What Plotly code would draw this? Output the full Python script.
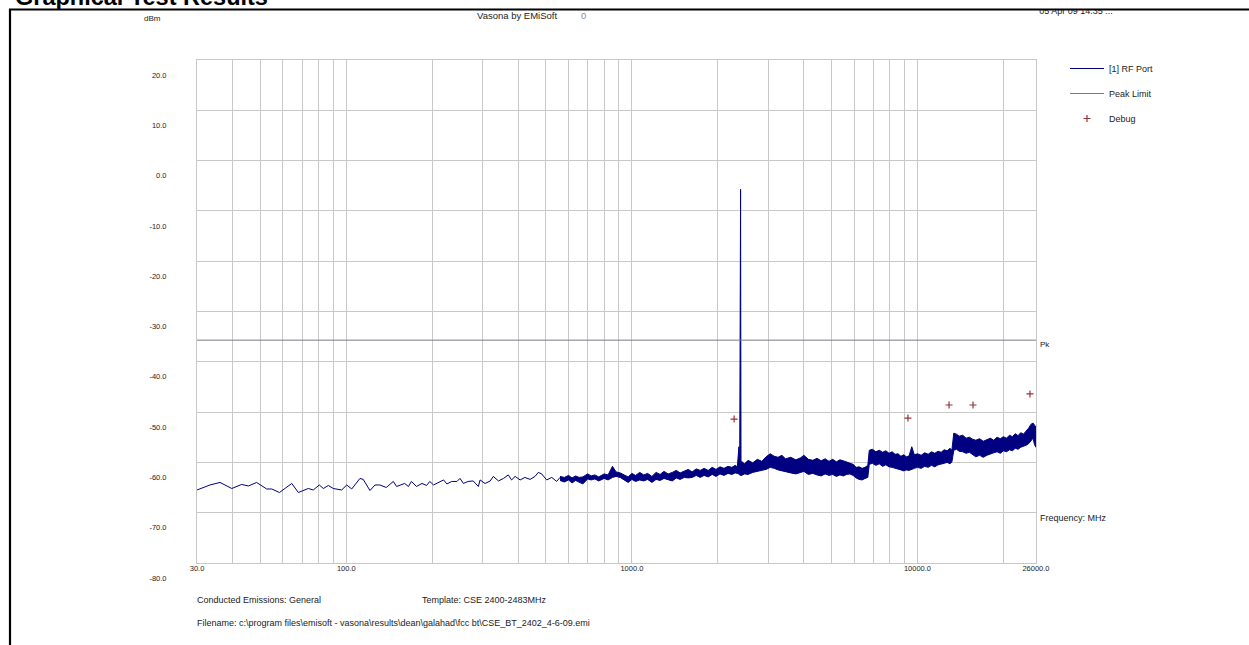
import math
import plotly.graph_objects as go

# ---------------- data ----------------
# RF Port trace, low-frequency part (single line)
low_freq = [30, 33.3, 36.1, 39.7, 43.0, 45.4, 48.5, 52.6, 54.8, 58.3, 64.4, 67.9, 73.6, 76.6,
            80.4, 83.1, 86.5, 90, 96.3, 100.3, 104.4, 111.6, 114.6, 121, 126, 131, 138, 146,
            150, 154, 160, 165, 169, 176, 184, 191, 196, 202, 210, 219, 225, 234, 244, 250,
            257, 267, 278, 290, 294, 306, 319, 327, 341, 355, 369, 379, 390, 406, 422, 440,
            458, 470, 483, 503, 524, 545, 560]
low_level = [-65.5, -64.5, -64.0, -65.2, -64.4, -64.7, -64.0, -65.3, -65.3, -66.0, -64.2, -66.0,
             -65.2, -65.5, -64.5, -65.2, -64.6, -65.2, -65.5, -64.5, -65.3, -63.2, -63.4, -65.6,
             -64.5, -64.5, -65.0, -63.8, -64.8, -64.5, -64.2, -64.8, -63.8, -64.8, -64.2, -64.6,
             -63.8, -64.5, -64.0, -63.5, -64.3, -63.8, -63.8, -63.2, -64.2, -63.8, -63.7, -64.8,
             -63.5, -64.2, -63.7, -62.8, -63.7, -63.2, -62.5, -63.5, -62.8, -63.5, -63.0, -63.4,
             -62.8, -62.0, -62.3, -63.5, -63.0, -63.8, -63.0]

# RF Port trace, dense part: upper and lower envelope of the noise band
band_freq = [560, 580, 600, 617, 635, 653, 673, 700, 720, 742, 765, 800, 825, 855, 880, 910,
             940, 970, 1000, 1030, 1065, 1100, 1135, 1175, 1215, 1255, 1295, 1340, 1385, 1430,
             1475, 1525, 1575, 1625, 1680, 1735, 1790, 1850, 1910, 1970, 2035, 2100, 2170, 2240,
             2300, 2340, 2370, 2385, 2395, 2402, 2410, 2420, 2480, 2550, 2650, 2750, 2850, 2950,
             3050, 3150, 3250, 3350, 3450, 3600, 3750, 3900, 4000, 4150, 4300, 4450, 4600, 4750,
             4900, 5050, 5200, 5350, 5500, 5650, 5800, 5950, 6100, 6250, 6400, 6550, 6700, 6780,
             6950, 7150, 7350, 7550, 7750, 7950, 8150, 8350, 8550, 8750, 8950, 9150, 9350, 9550,
             9750, 10000, 10300, 10600, 10900, 11200, 11500, 11800, 12100, 12400, 12700, 13000,
             13200, 13400, 13700, 14000, 14400, 14800, 15200, 15600, 16000, 16500, 17000, 17500,
             18000, 18500, 19000, 19500, 20000, 20500, 21000, 21500, 22000, 22500, 23000, 23500,
             24000, 24500, 25000, 25400, 25700, 26000]
band_hi = [-62.8, -63.0, -62.6, -63.1, -62.7, -63.0, -62.9, -62.3, -62.7, -62.5, -62.9, -62.3,
           -62.5, -60.8, -61.9, -62.1, -62.5, -62.9, -62.2, -62.6, -62.0, -62.5, -62.2, -62.8,
           -62.0, -62.4, -61.8, -62.3, -62.0, -61.6, -62.1, -61.7, -61.4, -61.9, -61.3, -61.6,
           -61.2, -61.6, -61.0, -61.4, -60.9, -61.2, -60.8, -61.0, -60.6, -60.9, -56.9, -61.0,
           -30.1, -5.7, -60.2, -59.8, -60.3, -59.6, -60.1, -59.4, -59.8, -58.9, -58.3, -58.8,
           -59.0, -58.6, -59.3, -59.0, -59.5, -59.1, -58.6, -59.4, -59.6, -59.2, -59.7, -59.3,
           -59.8, -59.4, -59.9, -59.5, -59.7, -59.9, -60.2, -60.4, -61.0, -60.9, -61.2, -61.0,
           -60.6, -57.6, -57.4, -57.9, -57.6, -58.0, -57.7, -58.2, -57.9, -58.4, -58.3, -58.8,
           -58.5, -58.9, -58.7, -56.9, -58.5, -58.3, -58.6, -58.1, -58.4, -57.9, -58.2, -57.8,
           -58.0, -57.5, -57.7, -57.2, -57.6, -54.2, -54.4, -54.8, -54.6, -55.2, -55.0, -55.4,
           -55.6, -55.3, -55.8, -55.5, -55.2, -55.6, -55.0, -55.3, -54.9, -55.2, -54.6, -54.9,
           -54.3, -54.7, -54.1, -54.4, -53.8, -53.2, -52.4, -52.2, -52.6, -53.0]
band_lo = [-63.6, -63.9, -63.5, -64.1, -63.6, -63.9, -64.3, -63.3, -63.5, -63.3, -63.7, -63.2,
           -63.5, -63.0, -62.8, -63.0, -63.5, -64.0, -63.4, -63.8, -63.5, -63.7, -63.4, -64.0,
           -63.4, -63.6, -63.2, -63.5, -63.7, -63.1, -63.4, -63.0, -63.1, -63.0, -62.6, -63.0,
           -62.6, -62.9, -62.4, -62.8, -62.3, -62.6, -62.2, -62.4, -62.1, -62.2, -62.3, -62.4,
           -62.6, -62.4, -62.7, -62.6, -62.3, -62.4, -62.0, -61.9, -61.6, -61.4, -61.0, -61.2,
           -61.5, -61.7, -61.9, -62.1, -62.3, -62.0, -61.8, -62.4, -62.2, -62.5, -62.7, -62.3,
           -62.6, -62.4, -62.8, -62.5, -62.7, -62.4, -62.3, -62.6, -63.1, -63.4, -63.5, -63.2,
           -63.0, -60.4, -60.2, -60.6, -60.3, -60.8, -60.5, -60.9, -61.0, -61.1, -61.3, -61.5,
           -61.7, -61.5, -61.6, -61.4, -61.2, -61.0, -61.2, -60.8, -61.0, -60.6, -60.9, -60.5,
           -60.4, -60.2, -60.0, -60.3, -59.9, -57.6, -57.4, -57.8, -57.9, -58.2, -58.0, -58.5,
           -58.9, -58.6, -59.0, -58.6, -58.3, -58.1, -57.9, -58.2, -57.7, -57.9, -57.5, -57.7,
           -57.2, -57.4, -57.0, -56.8, -56.6, -56.3, -55.6, -55.2, -56.5, -57.0]

limit_freq = [30, 26000]
limit_level = [-35.7, -35.7]

debug_freq = [2280, 9260, 12900, 15650, 24770]
debug_level = [-51.4, -51.2, -48.6, -48.6, -46.4]

y_ticks = [20, 10, 0, -10, -20, -30, -40, -50, -60, -70, -80]
y_ticktext = ["20.0", "10.0", "0.0", "-10.0", "-20.0", "-30.0", "-40.0", "-50.0",
              "-60.0", "-70.0", "-80.0"]
x_ticks = [30, 100, 1000, 10000, 26000]
x_ticktext = ["30.0", "100.0", "1000.0", "10000.0", "26000.0"]
x_grid = [40, 50, 60, 70, 80, 90, 200, 300, 400, 500, 600, 700, 800, 900,
          2000, 3000, 4000, 5000, 6000, 7000, 8000, 9000, 20000]

assert len(band_freq) == len(band_hi) == len(band_lo)
assert len(low_freq) == len(low_level)

# ---------------- layout helpers ----------------
W, H = 1249, 645
L, R, T, B = 197, 1036, 60, 563


def px(x):
    return (x - L) / (R - L)


def py(y):
    return (B - y) / (B - T)


NAVY = "#000080"
GRID = "#c8c8c8"
TXT = "#222222"
FONT = "Liberation Sans, Arial, sans-serif"

fig = go.Figure()
fig.add_trace(go.Scatter(x=low_freq, y=low_level, mode="lines", name="[1] RF Port",
                         line=dict(color=NAVY, width=1), legendgroup="rf"))
fig.add_trace(go.Scatter(x=band_freq + band_freq[::-1], y=band_hi + band_lo[::-1],
                         mode="lines", fill="toself", fillcolor=NAVY,
                         line=dict(color=NAVY, width=1), showlegend=False,
                         legendgroup="rf", hoverinfo="skip"))
fig.add_trace(go.Scatter(x=limit_freq, y=limit_level, mode="lines", name="Peak Limit",
                         line=dict(color="#7a7a86", width=1), legendgroup="pk"))
fig.add_trace(go.Scatter(x=debug_freq, y=debug_level, mode="markers", name="Debug",
                         marker=dict(symbol="cross-thin", size=5, color="#993333",
                                     line=dict(width=1.2, color="#993333")),
                         legendgroup="dbg"))

fig.update_layout(
    width=W, height=H, autosize=False,
    margin=dict(l=L, r=W - R, t=T, b=H - B, pad=0),
    paper_bgcolor="white", plot_bgcolor="white",
    font=dict(family=FONT, size=9, color=TXT),
    showlegend=True,
    legend=dict(x=px(1065), y=py(54), xanchor="left", yanchor="top",
                font=dict(size=9, color=TXT), tracegroupgap=6,
                bgcolor="rgba(0,0,0,0)", itemwidth=34),
    xaxis=dict(type="log", range=[math.log10(30) - 1e-4, math.log10(26000) + 1e-4],
               tickmode="array", tickvals=x_ticks, ticktext=x_ticktext,
               showgrid=True, gridcolor=GRID, gridwidth=1, zeroline=False,
               showline=True, linecolor=GRID, linewidth=1, mirror=True,
               ticks="", tickfont=dict(size=7.5, color=TXT), ticklabelstandoff=-2,
               minor=dict(tickvals=x_grid, showgrid=True, gridcolor=GRID, gridwidth=1, ticks="")),
    yaxis=dict(range=[-80.02, 20.02], tickmode="array", tickvals=y_ticks, ticktext=y_ticktext,
               showgrid=True, gridcolor=GRID, gridwidth=1, zeroline=False,
               showline=True, linecolor=GRID, linewidth=1, mirror=True,
               ticks="", tickfont=dict(size=7.5, color=TXT),
               ticklabelshift=15, ticklabelstandoff=28),
)

shapes = [
    # date stamp (partly hidden under the frame line)
    dict(type="rect", xref="paper", yref="paper", x0=px(1030), x1=px(1122), y0=py(16), y1=py(4),
         line=dict(width=0), fillcolor="rgba(0,0,0,0)", layer="above",
         label=dict(text="05 Apr 09 14:35 ...", font=dict(size=9, color=TXT, family=FONT),
                    textposition="middle center")),
    dict(type="rect", xref="paper", yref="paper", x0=px(1000), x1=px(1260), y0=py(-5), y1=py(9),
         line=dict(width=0), fillcolor="white", layer="above"),
    # page frame
    dict(type="line", xref="paper", yref="paper", x0=px(9), x1=px(1260), y0=py(9.5), y1=py(9.5),
         line=dict(color="black", width=2.2), layer="above"),
    dict(type="line", xref="paper", yref="paper", x0=px(10), x1=px(10), y0=py(9), y1=py(660),
         line=dict(color="black", width=2.2), layer="above"),
]
fig.update_layout(shapes=shapes)


def note(text, x, y, size=9, xanchor="left", color=TXT):
    fig.add_annotation(text=text, x=px(x), y=py(y), xref="paper", yref="paper",
                       xanchor=xanchor, yanchor="middle", showarrow=False,
                       font=dict(size=size, color=color, family=FONT))


note("<b>Graphical Test Results</b>", 13, -3, size=23.5, color="black")
note("dBm", 152, 18, size=8, xanchor="center")
note("Vasona by EMiSoft", 475, 15, size=9.5)
note("0", 583, 15, size=9.5, xanchor="center", color="#8a8aa8")
note("Pk", 1038, 344, size=8)
note("Frequency: MHz", 1038, 518, size=9)
note("Conducted Emissions: General", 195, 600, size=9)
note("Template: CSE 2400-2483MHz", 420, 600, size=9)
note(r"Filename: c:\program files\emisoft - vasona\results\dean\galahad\fcc bt\CSE_BT_2402_4-6-09.emi",
     195, 623, size=9)

fig.write_html("out.html", config={"displayModeBar": False},
               post_script="document.body.style.margin='0px';document.body.style.overflow='hidden';")
